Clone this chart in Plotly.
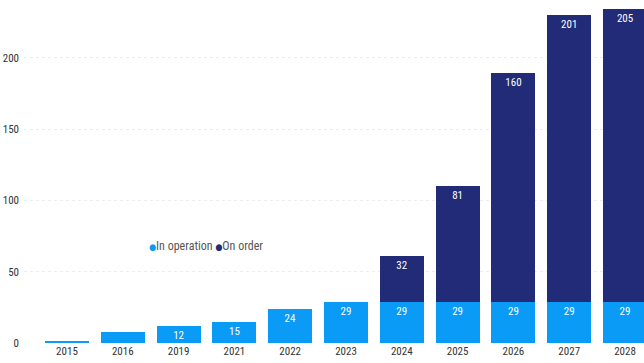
import plotly.graph_objects as go

years = ["2015", "2016", "2019", "2021", "2022", "2023", "2024", "2025", "2026", "2027", "2028"]
in_operation = [1, 8, 12, 15, 24, 29, 29, 29, 29, 29, 29]
on_order = [0, 0, 0, 0, 0, 0, 32, 81, 160, 201, 205]
in_op_labels = ["", "", "12", "15", "24", "29", "29", "29", "29", "29", "29"]
on_order_labels = ["", "", "", "", "", "", "32", "81", "160", "201", "205"]
series_names = ["In operation", "On order"]

C_OP = "#0A9BF6"
C_ORD = "#212B78"
FONT = "Roboto Condensed, DejaVu Sans Condensed, sans-serif"

fig = go.Figure()
fig.add_trace(go.Bar(x=years, y=in_operation, name=series_names[0], marker=dict(color=C_OP, line=dict(width=0)),
                     text=in_op_labels, textposition="inside", insidetextanchor="end",
                     textfont=dict(color="white", size=11, family=FONT), showlegend=False,
                     constraintext="none", textangle=0))
fig.add_trace(go.Bar(x=years, y=on_order, name=series_names[1], marker=dict(color=C_ORD, line=dict(width=0)),
                     text=on_order_labels, textposition="inside", insidetextanchor="end",
                     textfont=dict(color="white", size=11, family=FONT), showlegend=False,
                     constraintext="none", textangle=0))

legend_text = (f"<span style='color:{C_OP};font-size:9px'>●</span>{series_names[0]} "
               f"<span style='color:{C_ORD};font-size:9px'>●</span>{series_names[1]}")
fig.add_annotation(x=0.198, y=0.283, xref="paper", yref="paper", xanchor="left", yanchor="middle",
                   showarrow=False, text=legend_text, font=dict(family=FONT, size=12, color="#555"))

fig.update_layout(
    barmode="stack",
    bargap=0.21,
    width=644, height=363,
    margin=dict(l=24, r=0, t=0, b=20),
    paper_bgcolor="white", plot_bgcolor="white",
    font=dict(family=FONT, size=11, color="#444"),
    uniformtext=dict(minsize=8, mode="show"),
    showlegend=False,
    xaxis=dict(type="category", range=[-0.77, 10.34], showgrid=False, showline=False,
               ticks="", tickfont=dict(size=11, color="#333", family=FONT), fixedrange=True),
    yaxis=dict(range=[0, 240.5], tickvals=[0, 50, 100, 150, 200], showgrid=True,
               gridcolor="#ededed", griddash="dot", gridwidth=1, zeroline=False,
               showline=False, ticks="", tickfont=dict(size=11, color="#333", family=FONT),
               ticklabelstandoff=4),
)

fig.write_html("out.html")
